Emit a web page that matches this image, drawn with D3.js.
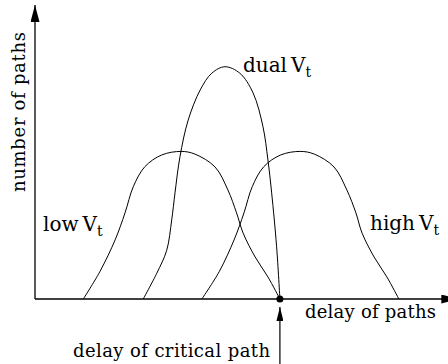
<!DOCTYPE html>
<html>
<head>
<meta charset="utf-8">
<script src="https://cdn.jsdelivr.net/npm/d3@7"></script>
<style>
  html, body { margin: 0; padding: 0; background: #fff; }
</style>
</head>
<body>
<svg id="viz-vt-delay"></svg>
<script>
(function() {

// delay (0..100) vs number of paths (0..100)
const lowVt = [
  [11.7, 0], [15.7, 9.3], [19.4, 20.1], [21.8, 29.3], [23.8, 38.2], [26.6, 45.0],
  [30.7, 49.0], [35.4, 50.2], [38.7, 49.3], [43.6, 44.9], [46.7, 37.1],
  [48.8, 29.3], [50.4, 22.4], [53.3, 14.3], [56.4, 7.5], [59.3, 0]
];
const dualVt = [
  [26.2, 0], [29.5, 8.8], [31.9, 16.6], [33.1, 26.9], [33.9, 36.1], [35.1, 48.4],
  [37.1, 60.9], [40.0, 71.1], [42.8, 76.8], [46.0, 79.0], [49.6, 76.8],
  [52.8, 70.1], [55.2, 58.6], [56.4, 47.3], [57.3, 36.1], [58.5, 17.8], [59.3, 0]
];
const highVt = [
  [40.4, 0], [44.6, 9.3], [48.2, 20.1], [50.6, 29.3], [52.6, 38.2], [55.4, 45.0],
  [59.5, 49.0], [64.2, 50.2], [67.6, 49.3], [72.4, 44.9], [75.5, 37.1],
  [77.7, 29.3], [79.2, 22.4], [82.1, 14.3], [85.2, 7.5], [88.1, 0]
];
const criticalDelay = 59.3;

const curveLabels = ["low", "dual", "high"];
const axisLabels = { x: "delay of paths", y: "number of paths", crit: "delay of critical path" };

const fontFamily = "DejaVu Serif";

const W = 448, H = 364;
const x = d3.scaleLinear().domain([0, 100]).range([35, 448]);
const y = d3.scaleLinear().domain([0, 100]).range([299, 5]);

const svg = d3.select("#viz-vt-delay")
    .attr("width", W)
    .attr("height", H);

const defs = svg.append("defs");

function arrowMarker(id, len, wid) {
    defs.append("marker")
        .attr("id", id)
        .attr("markerUnits", "userSpaceOnUse")
        .attr("viewBox", `0 ${-wid / 2} ${len} ${wid}`)
        .attr("refX", len)
        .attr("refY", 0)
        .attr("markerWidth", len)
        .attr("markerHeight", wid)
        .attr("orient", "auto")
      .append("path")
        .attr("d", `M0,${-wid / 2}L${len},0L0,${wid / 2}Z`)
        .attr("fill", "#000");
}
arrowMarker("arrowBig", 17, 9);
arrowMarker("arrowSmall", 14, 7);

// axes
svg.append("line")
    .attr("x1", x(0)).attr("y1", y(0))
    .attr("x2", x(0)).attr("y2", y(100))
    .attr("stroke", "#000").attr("stroke-width", 1.3)
    .attr("marker-end", "url(#arrowBig)");

svg.append("line")
    .attr("x1", x(0)).attr("y1", y(0))
    .attr("x2", x(102.5)).attr("y2", y(0))
    .attr("stroke", "#000").attr("stroke-width", 1.3)
    .attr("marker-end", "url(#arrowBig)");

// curves
const line = d3.line()
    .x(d => x(d[0]))
    .y(d => y(d[1]))
    .curve(d3.curveCatmullRom.alpha(0.5));

[lowVt, dualVt, highVt].forEach(data => {
    svg.append("path")
        .datum(data)
        .attr("fill", "none")
        .attr("stroke", "#000")
        .attr("stroke-width", 1)
        .attr("d", line);
});

// critical path marker
svg.append("circle")
    .attr("cx", x(criticalDelay))
    .attr("cy", y(0))
    .attr("r", 3.5)
    .attr("fill", "#000");

svg.append("line")
    .attr("x1", x(criticalDelay)).attr("y1", H)
    .attr("x2", x(criticalDelay)).attr("y2", y(0) + 8)
    .attr("stroke", "#000").attr("stroke-width", 1.2)
    .attr("marker-end", "url(#arrowSmall)");

// labels
function addText(px, py, size) {
    return svg.append("text")
        .attr("x", px).attr("y", py)
        .style("font-family", fontFamily)
        .style("font-size", size + "px")
        .attr("fill", "#000");
}

function vtLabel(txt, px, py) {
    const t = addText(px, py, 20);
    t.append("tspan").text(txt + "\u2009V");
    t.append("tspan").style("font-size", "14px").attr("dy", 5).text("t");
}
vtLabel(curveLabels[0], 43, 231);
vtLabel(curveLabels[1], 243, 72);
vtLabel(curveLabels[2], 370, 230);

addText(0, 0, 18)
    .attr("x", null).attr("y", null)
    .attr("transform", "translate(25,112) rotate(-90)")
    .attr("text-anchor", "middle")
    .attr("textLength", 160)
    .attr("lengthAdjust", "spacing")
    .text(axisLabels.y);

addText(305, 318, 18)
    .attr("textLength", 131)
    .attr("lengthAdjust", "spacing")
    .text(axisLabels.x);

addText(73, 357, 18)
    .attr("textLength", 197)
    .attr("lengthAdjust", "spacing")
    .text(axisLabels.crit);

})();
</script>
</body>
</html>
